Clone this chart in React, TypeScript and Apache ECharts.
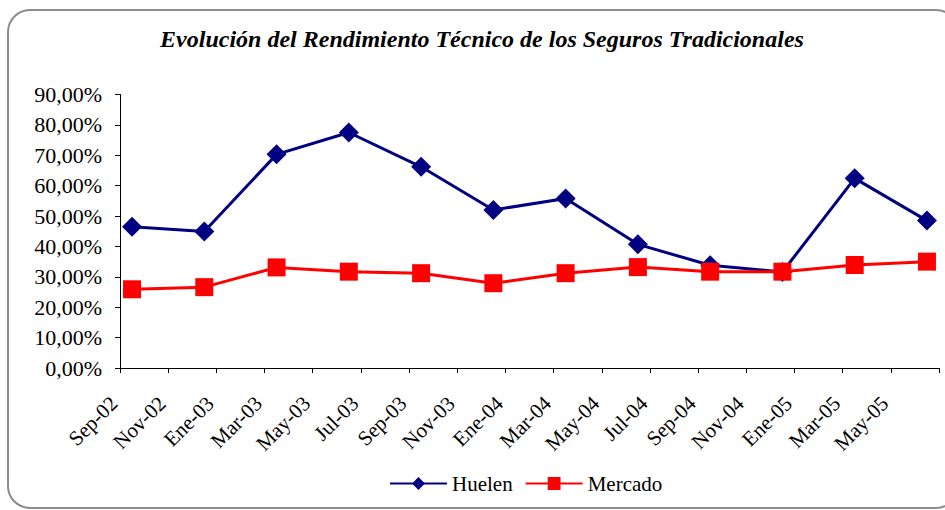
import React, { useEffect, useRef } from "react";
import * as echarts from "echarts";

// Monthly slots of the date axis (Sep-02 .. Jun-05)
const months = [
  "Sep-02", "Oct-02", "Nov-02", "Dic-02", "Ene-03", "Feb-03", "Mar-03", "Abr-03",
  "May-03", "Jun-03", "Jul-03", "Ago-03", "Sep-03", "Oct-03", "Nov-03", "Dic-03",
  "Ene-04", "Feb-04", "Mar-04", "Abr-04", "May-04", "Jun-04", "Jul-04", "Ago-04",
  "Sep-04", "Oct-04", "Nov-04", "Dic-04", "Ene-05", "Feb-05", "Mar-05", "Abr-05",
  "May-05", "Jun-05",
];

// Observation dates (quarterly)
const quarters = [
  "Sep-02", "Dic-02", "Mar-03", "Jun-03", "Sep-03", "Dic-03",
  "Mar-04", "Jun-04", "Sep-04", "Dic-04", "Mar-05", "Jun-05",
];

const huelen = [46.5, 44.9, 70.3, 77.5, 66.2, 52.0, 55.8, 40.7, 33.8, 31.6, 62.4, 48.5];
const mercado = [25.9, 26.6, 33.1, 31.7, 31.2, 27.9, 31.2, 33.2, 31.7, 31.7, 33.9, 35.0];

const yTicks = { min: 0, max: 90, interval: 10 };

const title = "Evolución del Rendimiento Técnico de los Seguros Tradicionales";
const FONT = "Liberation Serif";

function toMonthly(values: number[]) {
  return months.map((m) => {
    const i = quarters.indexOf(m);
    return i >= 0 ? values[i] : null;
  });
}

export default function App() {
  const ref = useRef<HTMLDivElement>(null);
  useEffect(() => {
    if (!ref.current) return;
    const chart = echarts.init(ref.current, null, { renderer: "svg" });
    const boundaryData = months.concat([""]);
    chart.setOption({
      animation: false,
      backgroundColor: "#ffffff",
      textStyle: { fontFamily: FONT },
      title: {
        text: title,
        left: 477,
        textAlign: "center",
        top: 22,
        textStyle: {
          fontFamily: FONT,
          fontSize: 24,
          fontWeight: "bold",
          fontStyle: "italic",
          color: "#000",
        },
      },
      graphic: [
        {
          type: "rect",
          shape: { x: 8, y: 10, width: 950, height: 498, r: 22 },
          style: { fill: "none", stroke: "#8c8c8c", lineWidth: 2 },
          silent: true,
          z: -1,
        },
      ],
      legend: {
        left: 384,
        top: 468,
        itemWidth: 57,
        itemHeight: 16,
        itemGap: 12,
        textStyle: { fontFamily: FONT, fontSize: 21, color: "#000" },
        data: ["Huelen", "Mercado"],
      },
      grid: [
        { left: 120, right: 6, top: 94.5, bottom: 142, containLabel: false },
        { left: 114, right: 12, top: 94.5, bottom: 142, containLabel: false },
      ],
      xAxis: [
        {
          type: "category",
          gridIndex: 0,
          data: months,
          boundaryGap: true,
          axisLine: { show: true, lineStyle: { color: "#000", width: 1 } },
          axisTick: { show: false },
          axisLabel: { show: false },
          splitLine: { show: false },
        },
        {
          type: "category",
          gridIndex: 0,
          data: boundaryData,
          boundaryGap: false,
          position: "bottom",
          axisLine: { show: false },
          axisTick: { show: true, interval: 1, length: 5, lineStyle: { color: "#000" } },
          axisLabel: { show: false },
          splitLine: { show: false },
        },
        {
          type: "category",
          gridIndex: 1,
          data: boundaryData,
          boundaryGap: false,
          position: "bottom",
          axisLine: { show: false },
          axisTick: { show: false },
          axisLabel: {
            interval: 1,
            rotate: 45,
            margin: 32,
            fontFamily: FONT,
            fontSize: 21,
            color: "#000",
          },
          splitLine: { show: false },
        },
      ],
      yAxis: [
        {
          type: "value",
          gridIndex: 0,
          min: yTicks.min,
          max: yTicks.max,
          interval: yTicks.interval,
          axisLine: { show: true, lineStyle: { color: "#000", width: 1 } },
          axisTick: { show: true, length: 5, lineStyle: { color: "#000" } },
          splitLine: { show: false },
          axisLabel: {
            margin: 18,
            fontFamily: FONT,
            fontSize: 22,
            color: "#000",
            formatter: (v: number) => v.toFixed(2).replace(".", ",") + "%",
          },
        },
        {
          type: "value",
          gridIndex: 1,
          min: yTicks.min,
          max: yTicks.max,
          show: false,
        },
      ],
      series: [
        {
          name: "Huelen",
          type: "line",
          xAxisIndex: 0,
          yAxisIndex: 0,
          data: toMonthly(huelen),
          connectNulls: true,
          showSymbol: true,
          showAllSymbol: true,
          symbol: "diamond",
          symbolSize: 20,
          lineStyle: { color: "#000080", width: 3 },
          itemStyle: { color: "#000080" },
          z: 2,
        },
        {
          name: "Mercado",
          type: "line",
          xAxisIndex: 0,
          yAxisIndex: 0,
          data: toMonthly(mercado),
          connectNulls: true,
          showSymbol: true,
          showAllSymbol: true,
          symbol: "rect",
          symbolSize: 18,
          lineStyle: { color: "#ff0000", width: 3 },
          itemStyle: { color: "#ff0000" },
          z: 3,
        },
      ],
    });
    return () => chart.dispose();
  }, []);
  return (
    <div
      ref={ref}
      style={{ position: "fixed", left: 0, top: 0, width: 945, height: 510, background: "#fff" }}
    />
  );
}
